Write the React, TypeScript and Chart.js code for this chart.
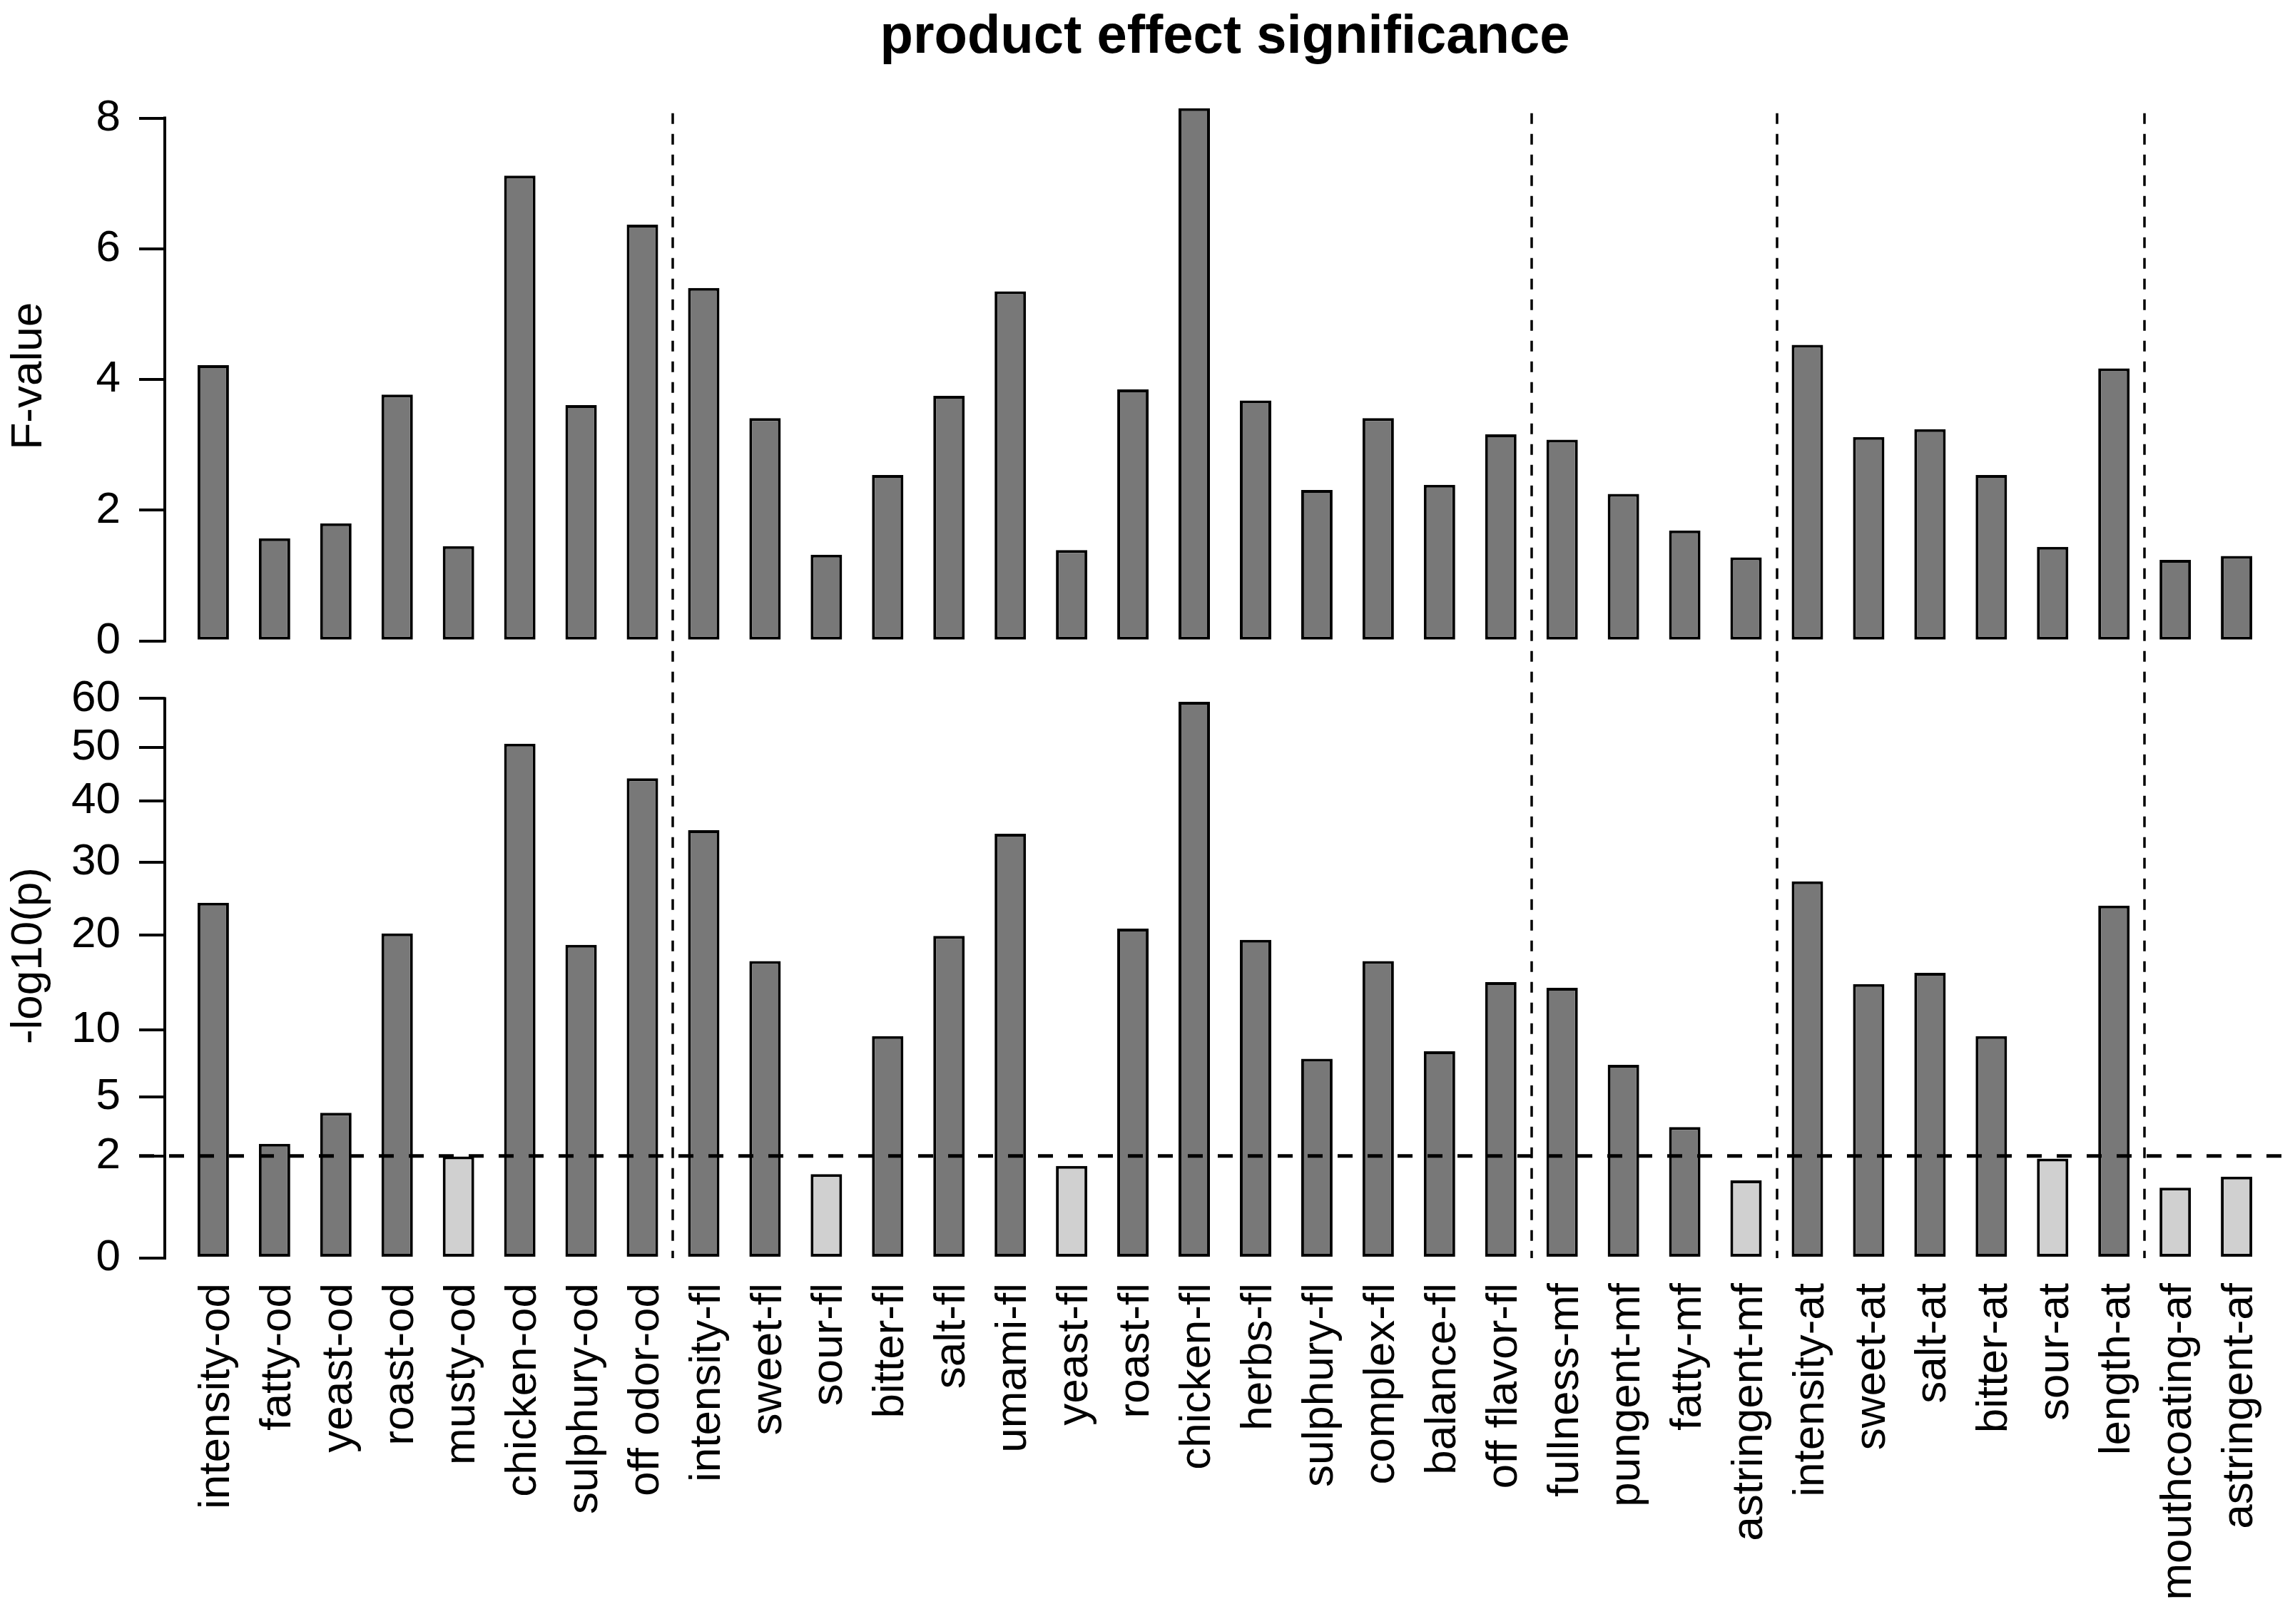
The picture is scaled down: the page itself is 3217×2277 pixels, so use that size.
import React, { useEffect, useRef } from 'react';
import { Chart, registerables } from 'chart.js';

Chart.register(...registerables);

// attribute names, suffix = attribute group (od, fl, mf, at, af)
const CATEGORIES = [
  'intensity-od', 'fatty-od', 'yeast-od', 'roast-od', 'musty-od', 'chicken-od', 'sulphury-od', 'off odor-od',
  'intensity-fl', 'sweet-fl', 'sour-fl', 'bitter-fl', 'salt-fl', 'umami-fl', 'yeast-fl', 'roast-fl',
  'chicken-fl', 'herbs-fl', 'sulphury-fl', 'complex-fl', 'balance-fl', 'off flavor-fl',
  'fullness-mf', 'pungent-mf', 'fatty-mf', 'astringent-mf',
  'intensity-at', 'sweet-at', 'salt-at', 'bitter-at', 'sour-at', 'length-at',
  'mouthcoating-af', 'astringent-af',
];

const F_VALUES = [
  4.22, 1.57, 1.80, 3.77, 1.45, 7.12, 3.61, 6.37,
  5.40, 3.41, 1.32, 2.54, 3.75, 5.35, 1.39, 3.85,
  8.15, 3.68, 2.31, 3.41, 2.39, 3.16,
  3.08, 2.25, 1.69, 1.28,
  4.53, 3.12, 3.24, 2.54, 1.44, 4.17,
  1.24, 1.30,
];

// -log10(p)
const LOGP_VALUES = [
  24.2, 2.50, 4.05, 20.2, 1.98, 50.7, 18.8, 44.1,
  35.1, 16.9, 1.35, 9.44, 19.9, 34.5, 1.63, 20.8,
  59.3, 19.4, 7.62, 16.9, 8.20, 14.6,
  14.0, 7.16, 3.29, 1.16,
  27.2, 14.4, 15.6, 9.44, 1.90, 23.8,
  0.95, 1.27,
];

const F_TICKS = [0, 2, 4, 6, 8];
const LOGP_TICKS = [0, 2, 5, 10, 20, 30, 40, 50, 60];
const SIG_LEVEL = 2; // p = 0.01

const W = 3217;
const H = 2277;
const FONT = '"Liberation Sans", Arial, Helvetica, sans-serif';
const DARK = '#787878';
const LIGHT = '#d0d0d0';

const groupOf = (c: string) => c.split('-').pop();
const GROUP_BREAKS: number[] = [];
for (let i = 1; i < CATEGORIES.length; i++) {
  if (groupOf(CATEGORIES[i]) !== groupOf(CATEGORIES[i - 1])) GROUP_BREAKS.push(i - 0.5);
}

const overlay = {
  id: 'overlay',
  afterDatasetsDraw(chart: any) {
    const { ctx, chartArea, scales } = chart;
    const x = scales.x;
    const yF = scales.yF;
    const yP = scales.yP;
    ctx.save();
    ctx.strokeStyle = '#000';

    // group separators
    ctx.lineWidth = 3.5;
    ctx.setLineDash([15, 14]);
    const top = yF.getPixelForValue(8.075);
    const bottom = yP.getPixelForValue(0);
    GROUP_BREAKS.forEach((b) => {
      const px = Math.round(x.getPixelForValue(b));
      ctx.beginPath();
      ctx.moveTo(px, top);
      ctx.lineTo(px, bottom);
      ctx.stroke();
    });

    // significance threshold
    ctx.lineWidth = 5;
    ctx.setLineDash([21, 21]);
    const ys = yP.getPixelForValue(Math.sqrt(SIG_LEVEL));
    ctx.beginPath();
    ctx.moveTo(chartArea.left - 36, ys);
    ctx.lineTo(chartArea.right, ys);
    ctx.stroke();

    // axis lines (only over the tick range, like base R)
    ctx.setLineDash([]);
    ctx.lineWidth = 4;
    ctx.lineCap = 'square';
    const ax = chartArea.left;
    ctx.beginPath();
    ctx.moveTo(ax, yF.getPixelForValue(F_TICKS[0]));
    ctx.lineTo(ax, yF.getPixelForValue(F_TICKS[F_TICKS.length - 1]));
    ctx.moveTo(ax, yP.getPixelForValue(Math.sqrt(LOGP_TICKS[0])));
    ctx.lineTo(ax, yP.getPixelForValue(Math.sqrt(LOGP_TICKS[LOGP_TICKS.length - 1])));
    ctx.stroke();
    ctx.restore();
  },
};

export default function App() {
  const canvasRef = useRef<HTMLCanvasElement>(null);

  useEffect(() => {
    document.body.style.margin = '0';
    if (!canvasRef.current) return;
    const ctx = canvasRef.current.getContext('2d');
    if (!ctx) return;

    Chart.defaults.font.family = FONT;
    Chart.defaults.color = '#000';

    const barStyle = {
      borderColor: '#000',
      borderWidth: 4,
      borderSkipped: false as const,
      grouped: false,
      barPercentage: 0.512,
      categoryPercentage: 1,
      clip: false as const,
    };

    const yTicksCommon = {
      font: { size: 62 },
      color: '#000',
      padding: 26,
      autoSkip: false,
    };
    const yGrid = {
      drawOnChartArea: false,
      drawTicks: true,
      tickLength: 36,
      color: '#000',
      lineWidth: 4,
    };

    const chart = new Chart(ctx, {
      type: 'bar',
      data: {
        datasets: [
          {
            label: 'F-value',
            data: F_VALUES.map((v, i) => ({ x: i, y: v })),
            yAxisID: 'yF',
            xAxisID: 'x',
            backgroundColor: DARK,
            ...barStyle,
          },
          {
            label: '-log10(p)',
            data: LOGP_VALUES.map((v, i) => ({ x: i, y: Math.sqrt(v) })),
            yAxisID: 'yP',
            xAxisID: 'x',
            backgroundColor: LOGP_VALUES.map((v) => (v < SIG_LEVEL ? LIGHT : DARK)),
            ...barStyle,
          },
        ],
      },
      options: {
        responsive: false,
        devicePixelRatio: 1,
        animation: false,
        events: [],
        layout: { padding: { left: 0, right: 14, top: 0, bottom: 0 } },
        plugins: {
          legend: { display: false },
          tooltip: { enabled: false },
          title: {
            display: true,
            text: 'product effect significance',
            fullSize: false,
            color: '#000',
            font: { size: 76, weight: 'bold', lineHeight: 1.2 },
            padding: { top: 7, bottom: 40 },
          },
        },
        scales: {
          x: {
            type: 'linear',
            position: 'bottom',
            offset: false,
            min: -0.79,
            max: CATEGORIES.length - 1 + 0.79,
            grid: { display: false, drawTicks: false, offset: false },
            border: { display: false },
            afterBuildTicks: (s: any) => {
              s.ticks = CATEGORIES.map((_, i) => ({ value: i }));
            },
            afterFit: (s: any) => {
              s.height = 513;
              s.paddingLeft = 0;
              s.paddingRight = 0;
            },
            ticks: {
              autoSkip: false,
              minRotation: 90,
              maxRotation: 90,
              padding: 35,
              labelOffset: 5,
              font: { size: 62 },
              color: '#000',
              callback: (_v: any, i: number) => CATEGORIES[i],
            },
          },
          yF: {
            type: 'linear',
            position: 'left',
            stack: 'panels',
            stackWeight: 778,
            weight: 1,
            min: -0.19,
            max: 8.299,
            grid: yGrid,
            border: { display: false },
            afterBuildTicks: (s: any) => {
              s.ticks = F_TICKS.map((v) => ({ value: v }));
            },
            afterFit: (s: any) => {
              s.width = 231;
            },
            ticks: { ...yTicksCommon, callback: (_v: any, i: number) => String(F_TICKS[i]) },
            title: {
              display: true,
              text: 'F-value',
              color: '#000',
              font: { size: 62, lineHeight: 1.2 },
              padding: { top: 4, bottom: 0 },
            },
          },
          yP: {
            type: 'linear',
            position: 'left',
            stack: 'panels',
            stackWeight: 848,
            weight: 0,
            min: 0,
            max: 8.371,
            grid: yGrid,
            border: { display: false },
            afterBuildTicks: (s: any) => {
              s.ticks = LOGP_TICKS.map((v) => ({ value: Math.sqrt(v) }));
            },
            afterFit: (s: any) => {
              s.width = 231;
            },
            ticks: { ...yTicksCommon, callback: (_v: any, i: number) => String(LOGP_TICKS[i]) },
            title: {
              display: true,
              text: '-log10(p)',
              color: '#000',
              font: { size: 62, lineHeight: 1.2 },
              padding: { top: 4, bottom: 0 },
            },
          },
        },
      } as any,
      plugins: [overlay],
    });

    return () => {
      chart.destroy();
    };
  }, []);

  return <canvas ref={canvasRef} width={W} height={H} style={{ display: 'block' }} />;
}
